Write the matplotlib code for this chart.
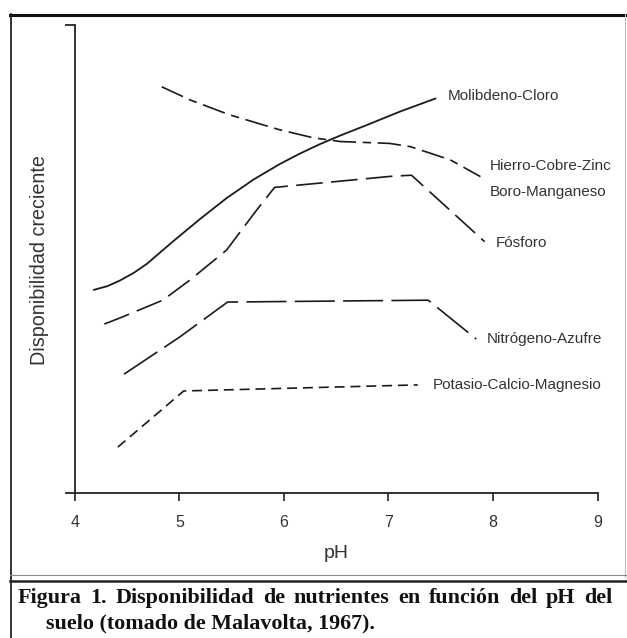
import matplotlib
matplotlib.use("Agg")
import matplotlib.pyplot as plt
from matplotlib.lines import Line2D

# ---------------- data (pH vs. relative availability, 0-100) ----------------
ph_mo = [4.18, 4.31, 4.43, 4.56, 4.69, 4.94, 5.20, 5.45, 5.71, 5.96, 6.15, 6.34, 6.54, 6.79, 7.11, 7.45]
av_mo = [43.4, 44.2, 45.4, 47.0, 49.0, 53.8, 58.6, 63.0, 67.0, 70.3, 72.5, 74.5, 76.4, 78.6, 81.5, 84.3]

ph_fe = [4.83, 5.10, 5.48, 5.96, 6.28, 6.54, 7.01, 7.21, 7.59, 7.88]
av_fe = [86.8, 84.0, 80.8, 77.6, 75.9, 75.1, 74.7, 74.0, 71.2, 67.6]

ph_p = [4.28, 4.43, 4.84, 5.10, 5.45, 5.74, 5.91, 7.04, 7.22, 7.92]
av_p = [36.1, 37.4, 41.2, 45.5, 51.9, 60.5, 65.3, 67.7, 67.9, 53.7]

ph_n = [4.47, 5.00, 5.46, 7.38, 7.84]
av_n = [25.4, 33.3, 40.8, 41.2, 32.9]

ph_k = [4.41, 5.04, 7.28]
av_k = [9.8, 21.8, 23.1]

labels = ["Molibdeno-Cloro", "Hierro-Cobre-Zinc", "Boro-Manganeso",
          "Fósforo", "Nitrógeno-Azufre", "Potasio-Calcio-Magnesio"]
label_ph = [7.57, 7.97, 7.97, 8.03, 7.94, 7.42]
label_av = [84.8, 69.9, 64.3, 53.4, 32.9, 23.1]

xticks = [4, 5, 6, 7, 8, 9]
xlabel = "pH"
ylabel = "Disponibilidad creciente"
caption1 = "Figura 1. Disponibilidad de nutrientes en función del pH del"
caption2 = "suelo (tomado de Malavolta, 1967)."

# ---------------- figure ----------------
W, H = 627, 638
fig = plt.figure(figsize=(W / 100, H / 100), dpi=100)
fig.patch.set_facecolor("white")

def fx(px):
    return px / W

def fy(py):
    return 1 - py / H

ax = fig.add_axes([fx(66), fy(493), (597.5 - 66) / W, (493 - 25) / H])
ax.set_xlim(3.914, 9.0)
ax.set_ylim(0, 100)
ax.patch.set_alpha(0)

for s in ["top", "right"]:
    ax.spines[s].set_visible(False)
ax.spines["left"].set_position(("data", 4))
ax.spines["left"].set_linewidth(1.3)
ax.spines["bottom"].set_linewidth(1.3)
ax.spines["left"].set_color("#222222")
ax.spines["bottom"].set_color("#222222")

ax.set_xticks(xticks)
ax.set_xticklabels([str(t) for t in xticks], fontsize=11.5,
                   family="Liberation Sans", color="#333333")
ax.tick_params(axis="x", direction="out", length=6, width=1.2, pad=10,
               colors="#222222", labelcolor="#333333")
ax.set_yticks([100])
ax.set_yticklabels([""])
ax.tick_params(axis="y", direction="out", length=7, width=1.3, colors="#222222")

lc = "#1a1a1a"
ax.plot(ph_mo, av_mo, color=lc, lw=1.3, solid_capstyle="round", solid_joinstyle="round")
ax.plot(ph_fe, av_fe, color=lc, lw=1.2, dashes=(14, 4, 5, 4))
ax.plot(ph_p, av_p, color=lc, lw=1.2, dashes=(16, 5))
ax.plot(ph_n, av_n, color=lc, lw=1.2, dashes=(24, 5))
ax.plot(ph_k, av_k, color=lc, lw=1.2, dashes=(6, 3.5))

for t, x, y in zip(labels, label_ph, label_av):
    ax.text(x, y, t, fontsize=11, family="Liberation Sans", color="#333333",
            ha="left", va="center")

fig.text(fx(336), fy(553), xlabel, fontsize=14, family="Liberation Sans",
         color="#333333", ha="center", va="center")
fig.text(fx(40), fy(260), ylabel, fontsize=14.2, family="Liberation Sans",
         color="#333333", ha="center", va="center", rotation=90)

# ---------------- frame lines ----------------
def hline(py, x0, x1, lw, color):
    fig.add_artist(Line2D([fx(x0), fx(x1)], [fy(py), fy(py)], lw=lw,
                          color=color, transform=fig.transFigure))

def vline(px, y0, y1, lw, color):
    fig.add_artist(Line2D([fx(px), fx(px)], [fy(y0), fy(y1)], lw=lw,
                          color=color, transform=fig.transFigure))

hline(15, 10, 627, 2.2, "#111111")
vline(10.5, 14, 638, 1.3, "#222222")
vline(625, 14, 577, 0.8, "#bbbbbb")
hline(574.5, 10, 627, 0.8, "#888888")
hline(580.5, 10, 627, 1.8, "#222222")

# ---------------- caption (line 1 justified) ----------------
cap_kw = dict(fontsize=15.8, family="Liberation Serif", weight="bold",
              color="#111111", va="center", ha="left")
renderer = fig.canvas.get_renderer()
words = caption1.split(" ")
arts = [fig.text(0, fy(598), w, **cap_kw) for w in words]
widths = [a.get_window_extent(renderer).width for a in arts]
x0, x1 = 18, 612
gap = (x1 - x0 - sum(widths)) / (len(words) - 1)
x = x0
for a, w in zip(arts, widths):
    a.set_x(fx(x))
    x += w + gap
fig.text(fx(46), fy(623), caption2, **cap_kw)

fig.savefig("out.png", dpi=100, facecolor="white")
